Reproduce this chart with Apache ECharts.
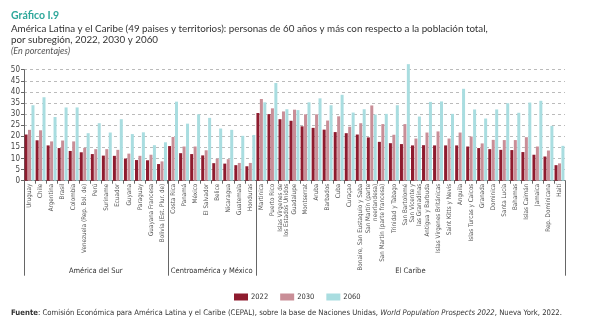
<!DOCTYPE html>
<html><head><meta charset="utf-8">
<script src="https://cdn.jsdelivr.net/npm/echarts@6/dist/echarts.min.js"></script>
<style>html,body{margin:0;padding:0;background:#fff}#c{width:589px;height:330px}</style>
</head><body><div id="c"></div>
<script>
// Categories by subregion
const catsSur = ['Uruguay','Chile','Argentina','Brasil','Colombia','Venezuela (Rep. Bol. de)','Perú','Suriname','Ecuador','Guyana','Paraguay','Guayana Francesa','Bolivia (Est. Plur. de)'];
const catsCentro = ['Costa Rica','Panamá','México','El Salvador','Belice','Nicaragua','Guatemala','Honduras'];
const catsCaribe = ['Martinica','Puerto Rico','Islas Vírgenes de\nlos Estados Unidos','Guadalupe','Montserrat','Aruba','Barbados','Cuba','Curaçao','Bonaire, San Eustaquio y Saba','San Martín (parte\nneerlandesa)','San Martín (parte francesa)','Trinidad y Tabago','San Bartolomé','San Vicente y\nlas Granadinas','Antigua y Barbuda','Islas Vírgenes Británicas','Saint Kitts y Nevis','Anguila','Islas Turcas y Caicos','Granada','Dominica','Santa Lucía','Bahamas','Islas Caimán','Jamaica','Rep. Dominicana','Haití'];
const groupNames = ['América del Sur','Centroamérica y México','El Caribe'];

// Values (%), per subregion
const sur2022 = [20.8,18.2,15.9,14.7,13.4,12.8,12.0,11.3,11.2,10.0,9.3,9.2,7.5];
const sur2030 = [22.9,22.7,17.7,18.1,17.7,14.8,14.2,14.2,13.9,12.2,11.2,11.7,8.7];
const sur2060 = [34.0,37.6,28.7,33.0,33.0,21.4,25.9,21.7,27.7,21.0,21.8,16.0,17.3];
const centro2022 = [15.6,12.4,12.0,11.4,7.9,7.7,7.0,6.5];
const centro2030 = [19.7,15.4,15.4,13.7,9.9,9.7,8.0,8.0];
const centro2060 = [35.6,25.7,29.9,28.3,23.5,22.9,20.2,20.6];
const caribe2022 = [30.5,30.0,27.7,27.0,24.5,23.8,23.0,21.9,21.4,20.8,19.5,17.5,16.9,16.5,15.9,16.0,15.9,15.9,15.9,15.4,14.7,14.2,13.9,13.8,12.9,11.7,10.9,7.0];
const caribe2030 = [36.8,32.6,31.2,32.0,29.9,29.9,27.1,29.0,24.3,25.9,33.9,25.5,20.7,25.5,19.0,21.7,22.2,19.0,21.7,19.9,16.8,18.4,18.3,18.3,19.6,15.4,13.6,7.8];
const caribe2060 = [35.3,44.0,32.2,31.8,35.3,37.1,34.0,38.7,30.7,32.2,29.8,30.1,34.0,52.5,28.9,35.5,35.7,30.1,41.4,32.1,28.0,32.1,34.9,30.6,35.2,36.0,24.7,15.7];
const seriesNames = ['2022','2030','2060'];
const yTicks = [0,5,10,15,20,25,30,35,40,45,50];

const categories = catsSur.concat(catsCentro, catsCaribe);
const groupSizes = [catsSur.length, catsCentro.length, catsCaribe.length];
const data2022 = sur2022.concat(centro2022, caribe2022);
const data2030 = sur2030.concat(centro2030, caribe2030);
const data2060 = sur2060.concat(centro2060, caribe2060);
const colors = ['#8E1B2E','#C98E97','#A9DDE0'];
const narrow = "'Liberation Sans Narrow','DejaVu Sans Condensed',sans-serif";

const chart = echarts.init(document.getElementById('c'), null, {renderer:'canvas'});
const mkSeries = (name, data, i) => ({
  name, type:'bar', data, barWidth:3, barGap:'15%', clip:false,
  itemStyle:{color:colors[i]}, emphasis:{disabled:true}, animation:false
});
chart.setOption({
  animation:false,
  color: colors,
  title:[
    {text:'Gráfico I.9', left:6, top:5, textStyle:{fontFamily:'Lato', fontSize:10.5, fontWeight:'bold', color:'#2FA89B'}},
    {text:'América Latina y el Caribe (49 paises y territorios): personas de 60 años y más con respecto a la población total,\npor subregión, 2022, 2030 y 2060', left:6, top:18,
     textStyle:{fontFamily:'Lato', fontSize:9.8, fontWeight:'normal', color:'#333', lineHeight:11.5}},
    {text:'(En porcentajes)', left:6, top:42, textStyle:{fontFamily:'Lato', fontSize:9, fontStyle:'italic', fontWeight:'normal', color:'#555'}},
    {text:'{b|Fuente}: Comisión Económica para América Latina y el Caribe (CEPAL), sobre la base de Naciones Unidas, {i|World Population Prospects 2022}, Nueva York, 2022.',
     left:6, top:304, textStyle:{fontFamily:narrow, fontSize:7.7, fontWeight:'normal', color:'#333',
       rich:{b:{fontFamily:narrow, fontSize:7.7, fontWeight:'bold', color:'#333'}, i:{fontFamily:narrow, fontSize:7.7, fontStyle:'italic', color:'#333'}}}}
  ],
  legend:{data:seriesNames, top:288, left:229, itemWidth:14, itemHeight:7, itemGap:12, icon:'rect',
    textStyle:{fontFamily:narrow, fontSize:7.5, color:'#333', padding:[0,0,0,-2]}},
  grid:{left:24, right:24, top:69.7, bottom:149.3, containLabel:false},
  xAxis:{type:'category', data:categories,
    axisLine:{lineStyle:{color:'#666', width:1}},
    axisTick:{show:true, length:3, lineStyle:{color:'#666'}},
    axisLabel:{interval:0, rotate:90, fontFamily:narrow, fontSize:6.3, lineHeight:6.8, color:'#555', margin:3}},
  yAxis:{type:'value', min:0, max:50, interval:5,
    axisLine:{show:true, lineStyle:{color:'#666'}},
    axisTick:{show:true, length:3, lineStyle:{color:'#666'}},
    axisLabel:{fontFamily:narrow, fontSize:8, color:'#444', margin:4},
    splitLine:{lineStyle:{color:'#bbb', type:[3,3], width:1}}},
  series:[mkSeries('2022',data2022,0), mkSeries('2030',data2030,1), mkSeries('2060',data2060,2)]
});

// Subregion separators and labels, positioned through the category axis scale
const c0 = chart.convertToPixel({xAxisIndex:0}, 0);
const c1 = chart.convertToPixel({xAxisIndex:0}, 1);
const bw = c1 - c0;
const yBase = chart.convertToPixel({yAxisIndex:0}, 0);
const elems = [];
let start = 0;
const bounds = [0];
groupSizes.forEach(n => { start += n; bounds.push(start); });
bounds.forEach(b => {
  const x = Math.round(c0 - bw/2 + b*bw) + 0.5;
  elems.push({type:'line', shape:{x1:x, y1:yBase, x2:x, y2:yBase+95}, style:{stroke:'#666', lineWidth:1}, silent:true});
});
for (let g=0; g<groupNames.length; g++) {
  const xa = c0 - bw/2 + bounds[g]*bw, xb = c0 - bw/2 + bounds[g+1]*bw;
  elems.push({type:'text', x:(xa+xb)/2, y:yBase+90, style:{text:groupNames[g], fontFamily:narrow, fontSize:7.5, fill:'#333', align:'center', verticalAlign:'middle'}, silent:true});
}
chart.setOption({graphic:elems});
</script></body></html>
